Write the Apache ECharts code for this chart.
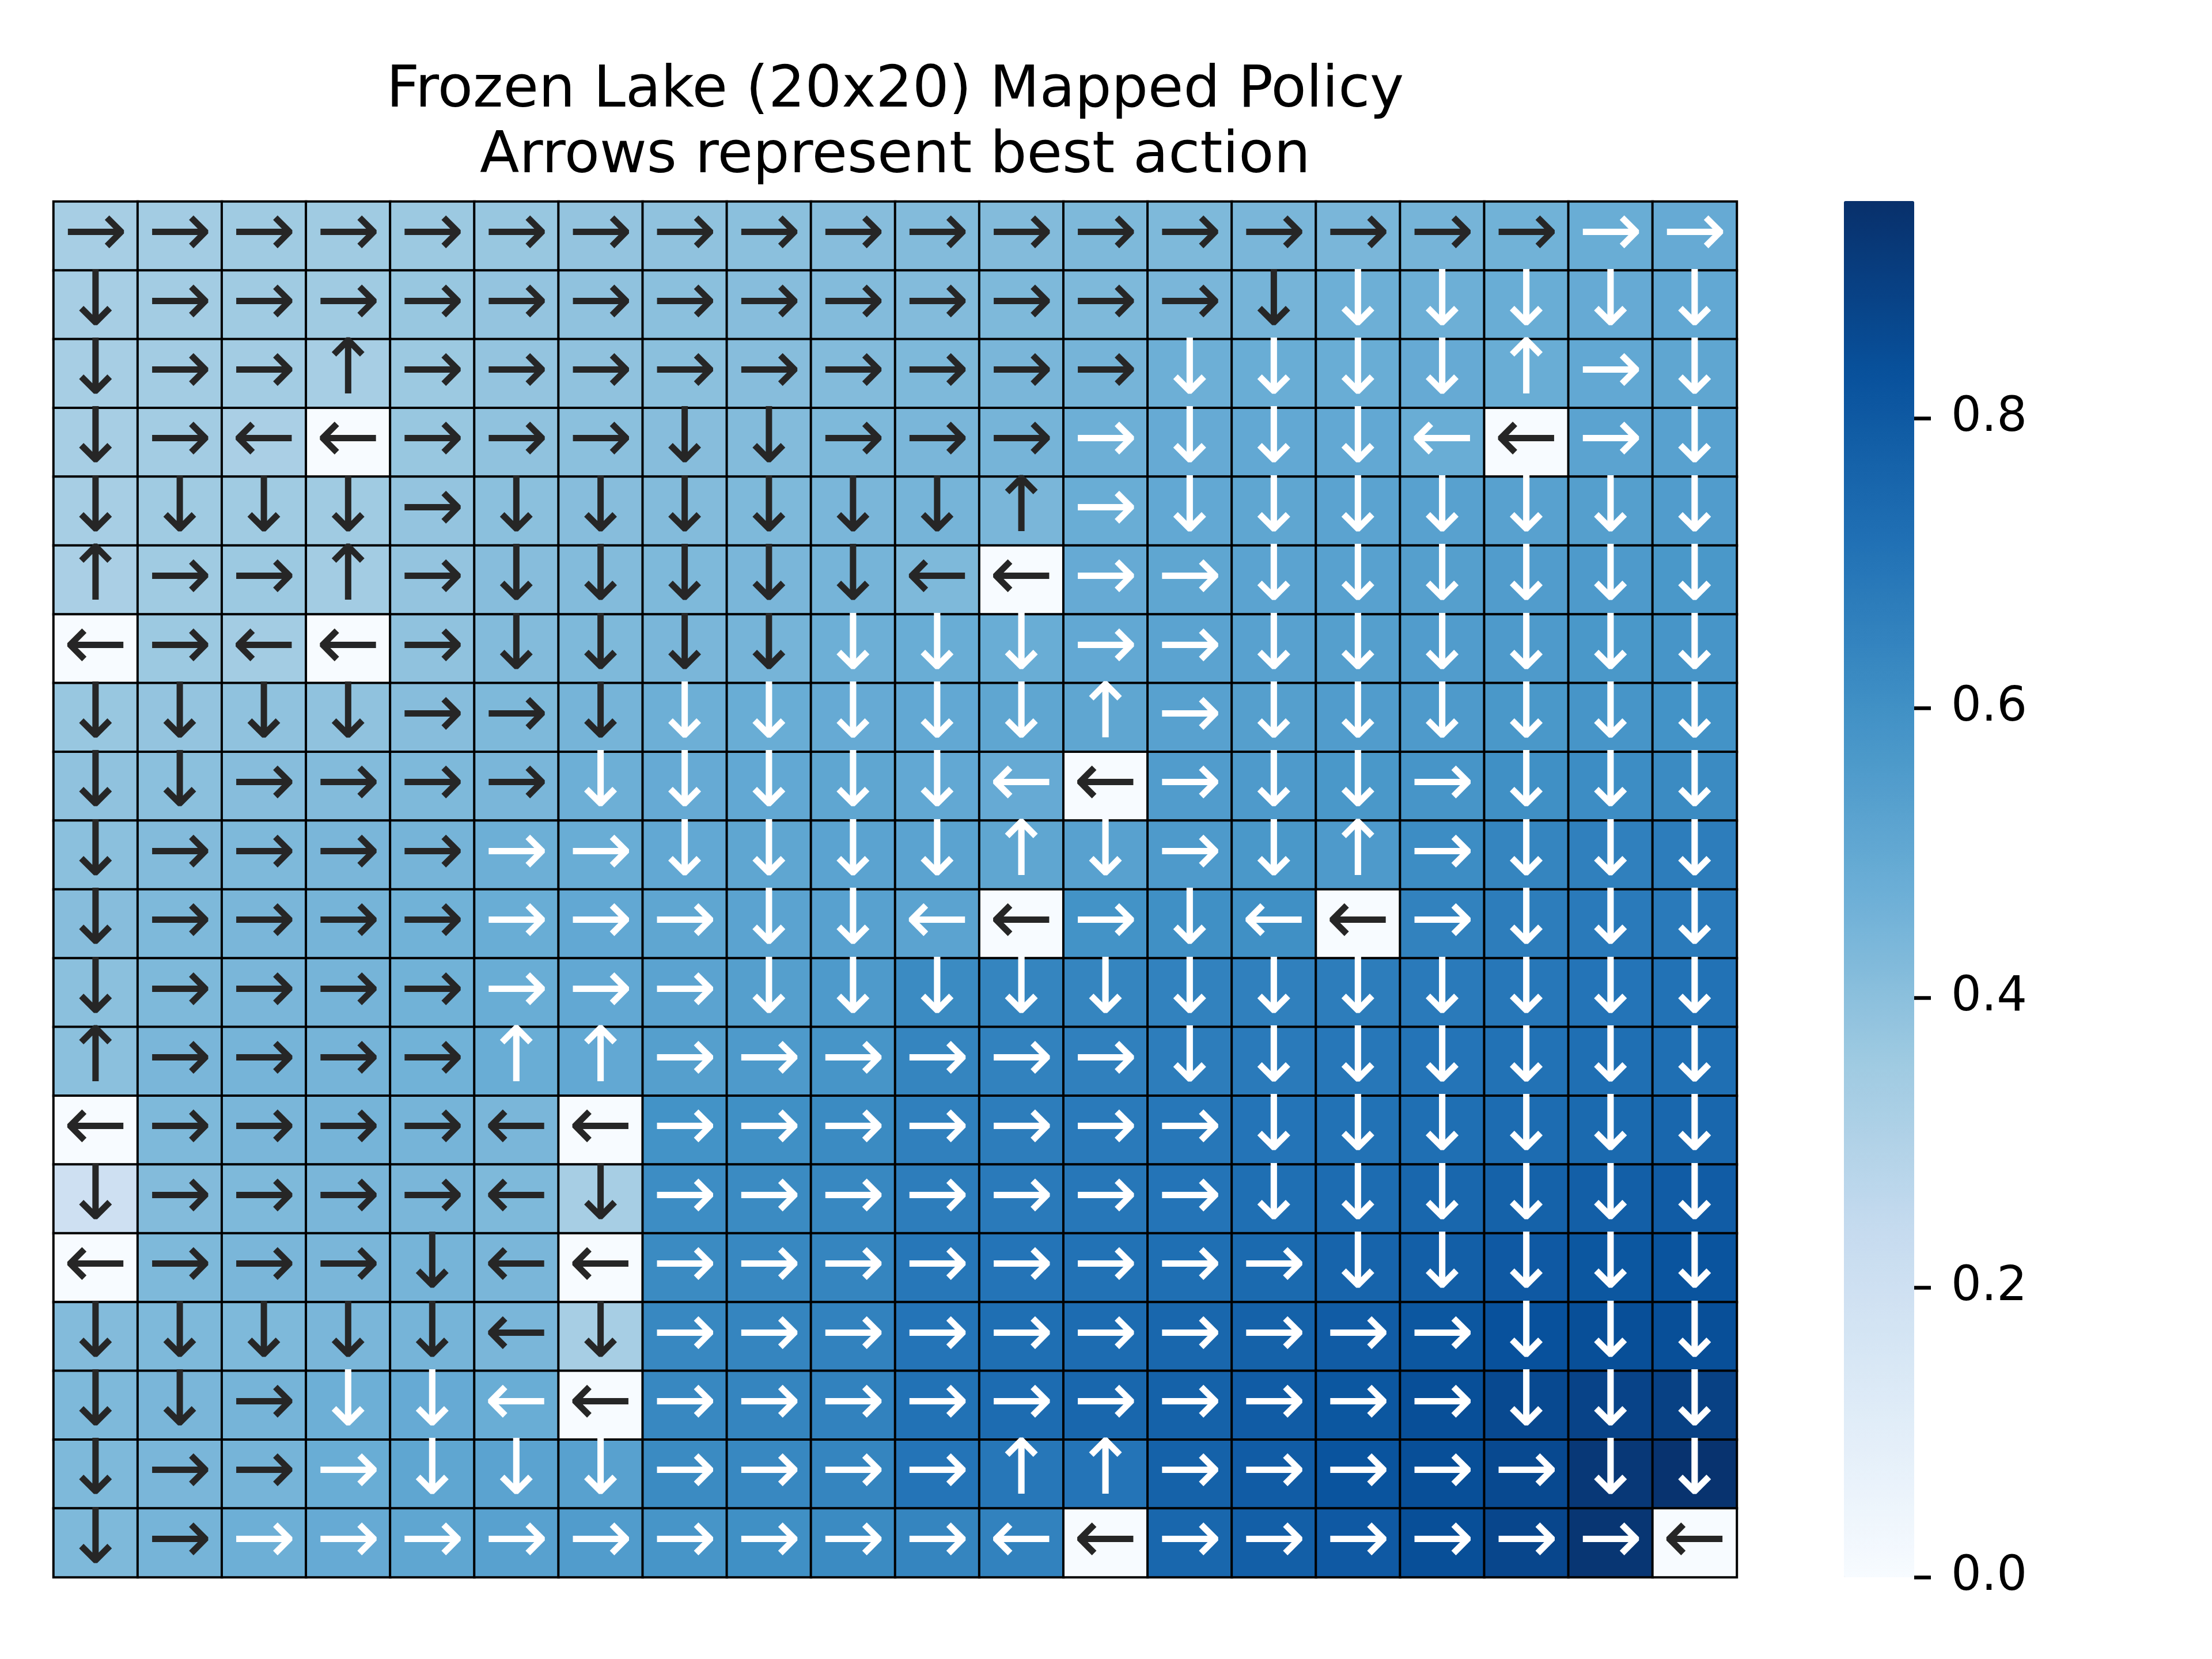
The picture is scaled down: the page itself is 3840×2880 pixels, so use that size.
<!DOCTYPE html>
<html>
<head>
<meta charset="utf-8">
<script src="https://cdn.jsdelivr.net/npm/echarts/dist/echarts.min.js"></script>
<style>
  html, body { margin: 0; padding: 0; background: #fff; }
  #main { width: 3840px; height: 2880px; }
</style>
</head>
<body>
<div id="main"></div>
<script>
// 20x20 网格的行列编号
const rows = ['0','1','2','3','4','5','6','7','8','9','10','11','12','13','14','15','16','17','18','19'];
const cols = ['0','1','2','3','4','5','6','7','8','9','10','11','12','13','14','15','16','17','18','19'];

// 每个格子的最佳动作 (R 右, D 下, L 左, U 上)
const policy = [
  'RRRRRRRRRRRRRRRRRRRR',
  'DRRRRRRRRRRRRRDDDDDD',
  'DRRURRRRRRRRRDDDDURD',
  'DRLLRRRDDRRRRDDDLLRD',
  'DDDDRDDDDDDURDDDDDDD',
  'URRURDDDDDLLRRDDDDDD',
  'LRLLRDDDDDDDRRDDDDDD',
  'DDDDRRDDDDDDURDDDDDD',
  'DDRRRRDDDDDLLRDDRDDD',
  'DRRRRRRDDDDUDRDURDDD',
  'DRRRRRRRDDLLRDLLRDDD',
  'DRRRRRRRDDDDDDDDDDDD',
  'URRRRUURRRRRRDDDDDDD',
  'LRRRRLLRRRRRRRDDDDDD',
  'DRRRRLDRRRRRRRDDDDDD',
  'LRRRDLLRRRRRRRRDDDDD',
  'DDDDDLDRRRRRRRRRRDDD',
  'DDRDDLLRRRRRRRRRRDDD',
  'DRRRDDDRRRRUURRRRRDD',
  'DRRRRRRRRRRLLRRRRRRL'
];

// 每个格子的状态价值
const values = [
  [0.33,0.34,0.35,0.35,0.36,0.37,0.38,0.39,0.40,0.41,0.42,0.42,0.43,0.43,0.44,0.44,0.45,0.46,0.48,0.49],
  [0.33,0.34,0.35,0.35,0.37,0.38,0.39,0.40,0.41,0.42,0.42,0.43,0.43,0.44,0.45,0.47,0.47,0.48,0.49,0.50],
  [0.33,0.34,0.34,0.33,0.36,0.38,0.39,0.40,0.41,0.42,0.43,0.44,0.45,0.47,0.48,0.48,0.49,0.48,0.50,0.51],
  [0.33,0.34,0.32,0,0.37,0.39,0.40,0.41,0.42,0.43,0.44,0.45,0.47,0.49,0.50,0.50,0.48,0,0.52,0.53],
  [0.33,0.35,0.35,0.35,0.38,0.40,0.41,0.42,0.43,0.44,0.45,0.44,0.48,0.50,0.51,0.52,0.53,0.53,0.54,0.55],
  [0.32,0.35,0.36,0.34,0.38,0.41,0.42,0.43,0.44,0.45,0.43,0,0.49,0.51,0.52,0.53,0.54,0.55,0.56,0.57],
  [0,0.36,0.34,0,0.39,0.42,0.43,0.44,0.45,0.47,0.48,0.48,0.50,0.52,0.53,0.54,0.55,0.56,0.57,0.58],
  [0.37,0.38,0.39,0.39,0.41,0.43,0.45,0.47,0.48,0.49,0.50,0.51,0.51,0.53,0.54,0.55,0.56,0.57,0.58,0.59],
  [0.39,0.40,0.41,0.42,0.43,0.44,0.47,0.49,0.50,0.51,0.50,0.49,0,0.55,0.56,0.57,0.58,0.60,0.61,0.62],
  [0.40,0.42,0.43,0.44,0.45,0.47,0.48,0.50,0.51,0.52,0.52,0.51,0.53,0.56,0.57,0.56,0.61,0.64,0.66,0.67],
  [0.41,0.43,0.44,0.45,0.46,0.48,0.50,0.51,0.52,0.53,0.52,0,0.59,0.60,0.60,0,0.65,0.67,0.68,0.68],
  [0.40,0.43,0.44,0.45,0.46,0.48,0.50,0.52,0.54,0.56,0.62,0.64,0.64,0.65,0.66,0.67,0.68,0.69,0.70,0.71],
  [0.40,0.44,0.45,0.45,0.46,0.48,0.50,0.54,0.56,0.58,0.64,0.65,0.66,0.67,0.68,0.69,0.70,0.71,0.72,0.72],
  [0,0.43,0.44,0.45,0.45,0.44,0,0.59,0.60,0.62,0.66,0.67,0.68,0.69,0.70,0.71,0.72,0.73,0.74,0.75],
  [0.20,0.42,0.43,0.44,0.44,0.43,0.33,0.61,0.62,0.63,0.67,0.68,0.69,0.70,0.72,0.73,0.75,0.77,0.78,0.79],
  [0,0.43,0.44,0.44,0.45,0.44,0,0.62,0.63,0.64,0.69,0.70,0.71,0.72,0.74,0.76,0.78,0.80,0.81,0.82],
  [0.42,0.43,0.43,0.44,0.45,0.44,0.33,0.63,0.64,0.65,0.70,0.72,0.73,0.75,0.77,0.79,0.81,0.83,0.84,0.84],
  [0.43,0.44,0.45,0.47,0.49,0.48,0,0.63,0.64,0.65,0.71,0.73,0.75,0.77,0.79,0.81,0.84,0.86,0.88,0.89],
  [0.43,0.44,0.45,0.48,0.51,0.52,0.53,0.62,0.63,0.64,0.70,0.69,0.70,0.77,0.79,0.82,0.84,0.86,0.92,0.94],
  [0.43,0.45,0.47,0.49,0.51,0.53,0.55,0.58,0.60,0.62,0.64,0.65,0,0.75,0.78,0.80,0.84,0.87,0.93,0]
];

// 色条刻度
const cbarTicks = [0, 0.2, 0.4, 0.6, 0.8];
const vmax = 0.95;

const arrowOf = { R: '→', D: '↓', L: '←', U: '↑' };
// matplotlib Blues
const blues = ['#f7fbff','#deebf7','#c6dbef','#9ecae1','#6baed6','#4292c6','#2171b5','#08519c','#08306b'];

// 色条位置 (像素)
const cbarTop = 349, cbarBottom = 2738;
const tickMax = cbarTicks[cbarTicks.length - 1];
// 刻度轴只覆盖 0 ~ 0.8 那一段，保证 0.8 的位置与色条一致
const axisTop = cbarBottom - (cbarBottom - cbarTop) * tickMax / vmax;

const chartInstance = echarts.init(document.getElementById('main'));

const cells = [];
values.forEach((row, r) => {
  row.forEach((v, c) => {
    cells.push({
      value: [c, r, v],
      label: { color: v > 0.465 ? '#ffffff' : '#262626' } // 深色格子用白色箭头
    });
  });
});

const option = {
  backgroundColor: '#ffffff',
  animation: false,
  title: {
    text: 'Frozen Lake (20x20) Mapped Policy\nArrows represent best action',
    left: 1554,
    top: 102,
    padding: 0,
    textAlign: 'center',
    textStyle: {
      fontFamily: 'DejaVu Sans',
      fontSize: 100,
      fontWeight: 'normal',
      color: '#000',
      lineHeight: 114
    }
  },
  grid: [
    { left: 93, top: 350, width: 2922, height: 2388 },
    { left: 3201, top: axisTop, width: 122, height: cbarBottom - axisTop }
  ],
  xAxis: [
    { type: 'category', data: cols, gridIndex: 0, show: false },
    { type: 'value', gridIndex: 1, min: 0, max: 1, show: false }
  ],
  yAxis: [
    { type: 'category', data: rows, gridIndex: 0, inverse: true, show: false },
    {
      type: 'value',
      gridIndex: 1,
      min: 0,
      max: tickMax,
      interval: 0.2,
      position: 'right',
      z: 10,
      axisLine: { show: false, onZero: false },
      splitLine: { show: false },
      axisTick: {
        show: true,
        inside: false,
        length: 29,
        lineStyle: { color: '#000', width: 6.5 }
      },
      axisLabel: {
        margin: 64,
        fontSize: 83,
        fontFamily: 'DejaVu Sans',
        color: '#000',
        formatter: (v) => v.toFixed(1)
      }
    }
  ],
  visualMap: {
    type: 'continuous',
    seriesIndex: 0,
    min: 0,
    max: vmax,
    calculable: false,
    orient: 'vertical',
    left: 3201,
    top: cbarTop,
    padding: 0,
    itemWidth: 122,
    itemHeight: cbarBottom - cbarTop,
    text: null,
    showLabel: false,
    hoverLink: false,
    inRange: { color: blues }
  },
  series: [
    {
      type: 'heatmap',
      xAxisIndex: 0,
      yAxisIndex: 0,
      data: cells,
      itemStyle: { borderColor: '#000', borderWidth: 4 },
      label: {
        show: true,
        fontFamily: 'DejaVu Sans',
        fontSize: 133,
        formatter: (p) => arrowOf[policy[p.value[1]][p.value[0]]]
      },
      emphasis: { disabled: true }
    }
  ]
};

chartInstance.setOption(option);
</script>
</body>
</html>
